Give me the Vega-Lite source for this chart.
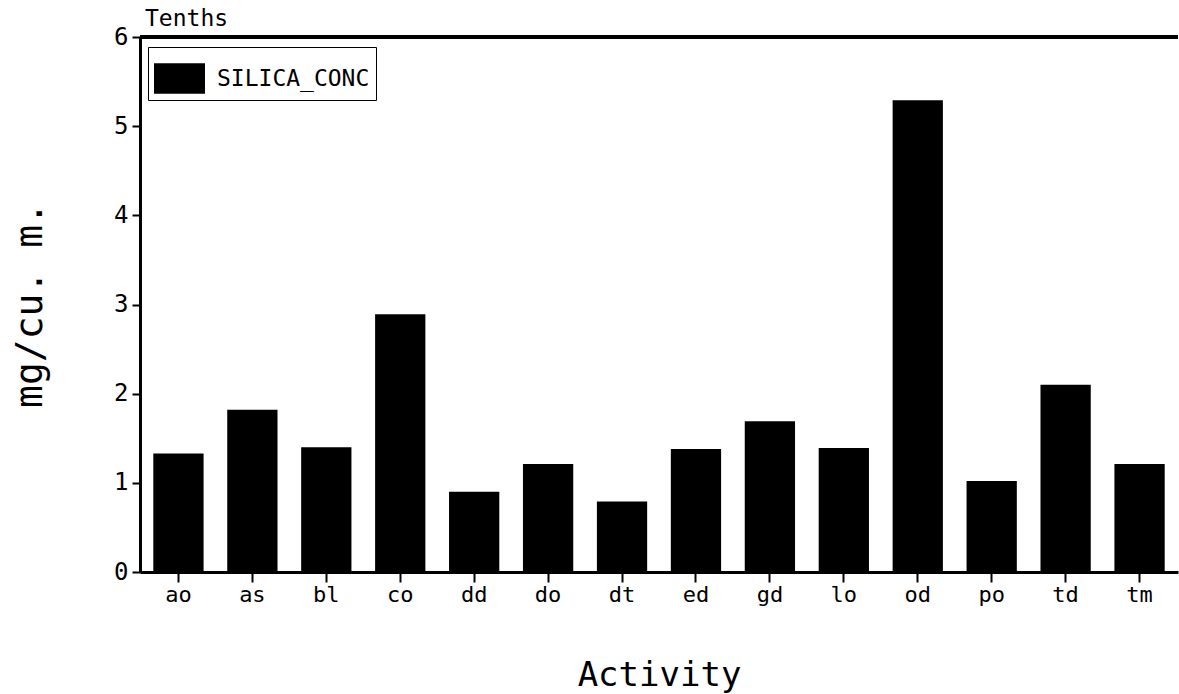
{
  "$schema": "https://vega.github.io/schema/vega-lite/v6.json",
  "width": 1038,
  "height": 535,
  "autosize": "none",
  "padding": {"left": 140, "top": 37, "right": 1, "bottom": 122},
  "background": "white",
  "config": {"view": {"stroke": null}, "font": "DejaVu Sans Mono"},
  "title": {"text": "Tenths", "anchor": "start", "frame": "group", "fontSize": 23, "font": "DejaVu Sans Mono", "fontWeight": "normal", "offset": -6, "dx": 5, "color": "black"},
  "data": {"values": [
    {"Activity": "ao", "SILICA_CONC": 1.33},
    {"Activity": "as", "SILICA_CONC": 1.82},
    {"Activity": "bl", "SILICA_CONC": 1.4},
    {"Activity": "co", "SILICA_CONC": 2.89},
    {"Activity": "dd", "SILICA_CONC": 0.9},
    {"Activity": "do", "SILICA_CONC": 1.21},
    {"Activity": "dt", "SILICA_CONC": 0.79},
    {"Activity": "ed", "SILICA_CONC": 1.38},
    {"Activity": "gd", "SILICA_CONC": 1.69},
    {"Activity": "lo", "SILICA_CONC": 1.39},
    {"Activity": "od", "SILICA_CONC": 5.29},
    {"Activity": "po", "SILICA_CONC": 1.02},
    {"Activity": "td", "SILICA_CONC": 2.1},
    {"Activity": "tm", "SILICA_CONC": 1.21}
  ]},
  "layer": [
    {
      "mark": {"type": "bar"},
      "encoding": {
        "x": {"field": "Activity", "type": "nominal", "sort": null,
          "scale": {"paddingInner": 0.32, "paddingOuter": 0.18},
          "axis": {"labelAngle": 0, "labelFontSize": 22, "labelColor": "black", "labelFont": "DejaVu Sans Mono",
            "domainColor": "black", "domainWidth": 3, "tickColor": "black", "tickWidth": 2, "tickSize": 10,
            "labelPadding": 2, "title": "Activity", "titleFontSize": 34, "titleFont": "DejaVu Sans Mono",
            "titleFontWeight": "normal", "titleColor": "black", "titlePadding": 53}},
        "y": {"field": "SILICA_CONC", "type": "quantitative",
          "scale": {"domain": [0, 6], "nice": false},
          "axis": {"values": [0, 1, 2, 3, 4, 5, 6], "format": "d", "grid": false, "labelFontSize": 24, "labelColor": "black",
            "labelFont": "DejaVu Sans Mono", "domainColor": "black", "domainWidth": 3, "tickColor": "black",
            "tickWidth": 2, "tickSize": 8, "labelPadding": 4,
            "title": "mg/cu. m.", "titleFontSize": 38, "titleFont": "DejaVu Sans Mono", "titleFontWeight": "normal",
            "titleColor": "black", "titlePadding": 64}},
        "color": {"datum": "SILICA_CONC", "type": "nominal",
          "scale": {"range": ["black"]},
          "legend": {"title": null, "orient": "none", "legendX": 8, "legendY": 10,
            "strokeColor": "black", "padding": 6,
            "symbolType": "M-1,-0.6H1V0.6H-1Z", "symbolSize": 2600, "symbolStrokeWidth": 0,
            "labelFontSize": 23, "labelFont": "DejaVu Sans Mono", "labelColor": "black", "labelOffset": 12}}
      }
    },
    {
      "mark": {"type": "rule", "color": "black", "strokeWidth": 3},
      "encoding": {"y": {"datum": 6}}
    }
  ]
}
